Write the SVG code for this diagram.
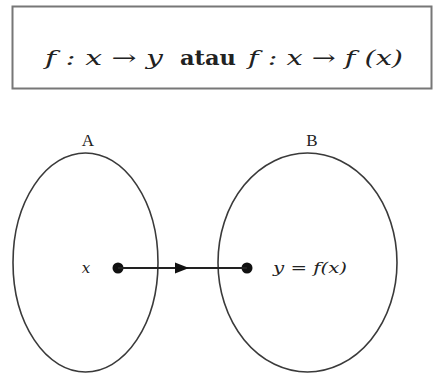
<svg xmlns="http://www.w3.org/2000/svg" width="435" height="374" viewBox="0 0 435 374">
<style>
.set{fill:none;stroke:#3a3a3a;stroke-width:1.6}
.math{font-family:"DejaVu Serif","Liberation Serif",serif;font-style:italic;fill:#222}
.lbl{font-family:"Liberation Serif","DejaVu Serif",serif;fill:#222}
.bold{font-family:"DejaVu Serif","Liberation Serif",serif;font-weight:bold;fill:#222}
</style>
<rect width="435" height="374" fill="#fff"/>
<g id="formula">
<rect x="12.5" y="6.5" width="419" height="82" fill="#fff" stroke="#777" stroke-width="2"/>
<text class="math" x="45" y="65" font-size="21" textLength="118" lengthAdjust="spacingAndGlyphs">f : x → y</text>
<text class="bold" x="180" y="65" font-size="20" textLength="56" lengthAdjust="spacingAndGlyphs">atau</text>
<text class="math" x="248" y="65" font-size="21" textLength="155" lengthAdjust="spacingAndGlyphs">f : x → f (x)</text>
</g>
<g id="setA">
<ellipse class="set" cx="85.5" cy="262.5" rx="72.5" ry="109.5"/>
<text class="lbl" x="88" y="146" font-size="17" text-anchor="middle">A</text>
<text class="math" x="86" y="273" font-size="15" text-anchor="middle">x</text>
<circle cx="118" cy="268" r="5.5" fill="#111"/>
</g>
<g id="setB">
<ellipse class="set" cx="307.5" cy="262.5" rx="89.5" ry="109.5"/>
<text class="lbl" x="312" y="146" font-size="17" text-anchor="middle">B</text>
<text class="math" x="273" y="273" font-size="15" textLength="74" lengthAdjust="spacingAndGlyphs">y = f(x)</text>
<circle cx="247" cy="268" r="5.5" fill="#111"/>
</g>
<g id="connectors">
<line x1="118" y1="268" x2="247" y2="268" stroke="#222" stroke-width="2"/>
<polygon points="175,262.5 189,268 175,273.5" fill="#111"/>
</g>
</svg>
